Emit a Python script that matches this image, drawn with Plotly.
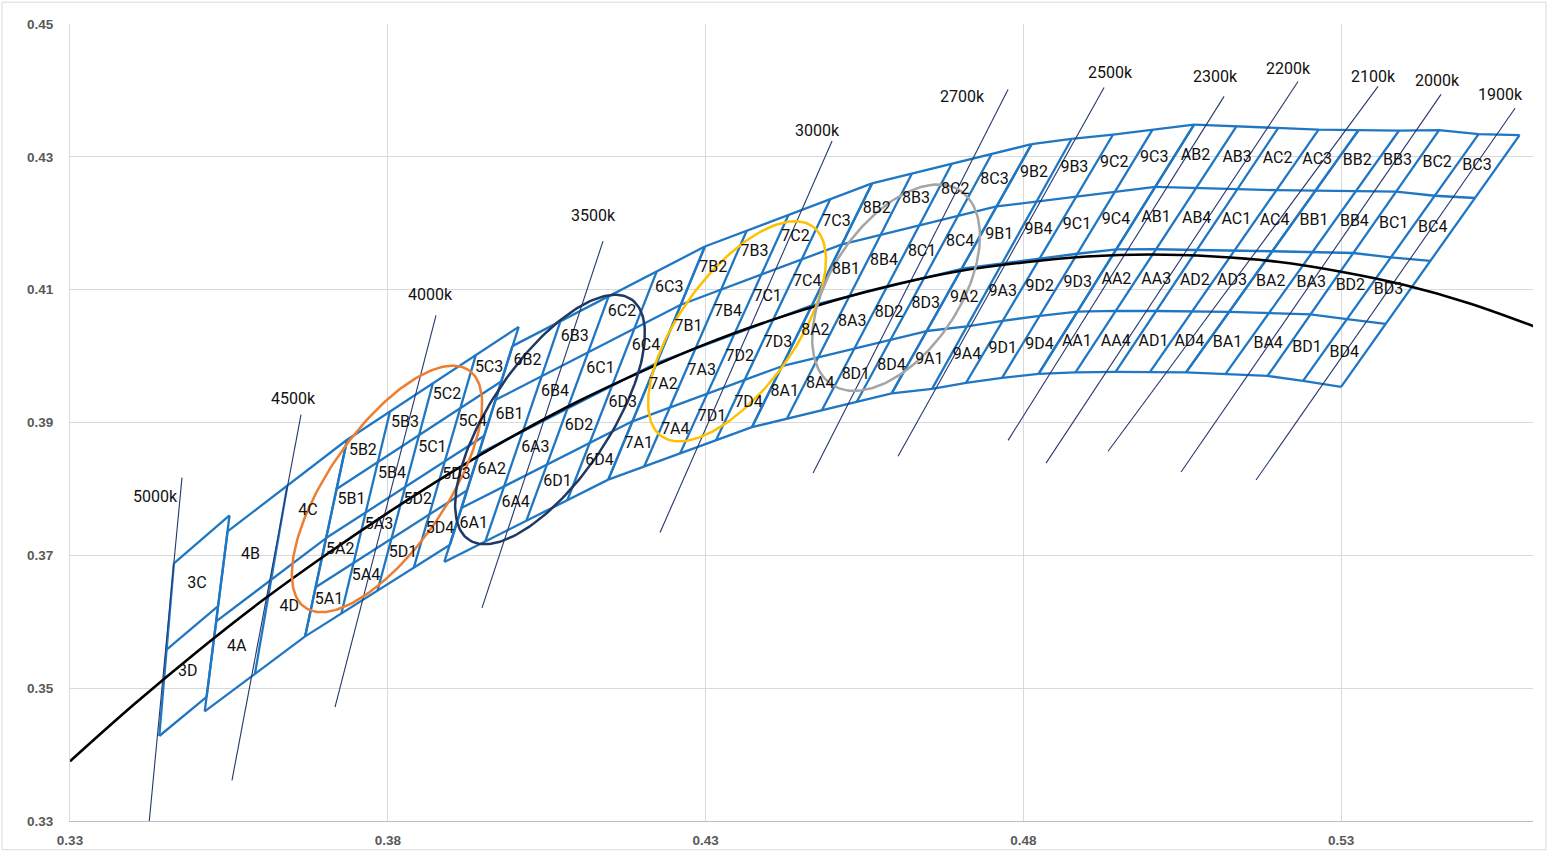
import numpy as np
import plotly.graph_objects as go

# ---------------- axes ----------------
X_RANGE = [0.33, 0.5602]
Y_RANGE = [0.33, 0.45]
X_TICKS = [0.33, 0.38, 0.43, 0.48, 0.53]
Y_TICKS = [0.33, 0.35, 0.37, 0.39, 0.41, 0.43, 0.45]

# ---------------- Planckian locus (black curve) ----------------
LOCUS_X = [0.33, 0.34, 0.35, 0.36, 0.37, 0.38, 0.39, 0.40, 0.41, 0.42, 0.43, 0.44,
           0.45, 0.46, 0.47, 0.48, 0.49, 0.50, 0.51, 0.52, 0.53, 0.54, 0.55, 0.56, 0.565]
LOCUS_Y = [0.3390, 0.3475, 0.3555, 0.3630, 0.3699, 0.3764, 0.3825, 0.3881, 0.3932, 0.3977,
           0.4018, 0.4053, 0.4083, 0.4108, 0.4128, 0.4141, 0.4150, 0.4153, 0.4150, 0.4142,
           0.4127, 0.4107, 0.4080, 0.4046, 0.4027]

# ---------------- quadrangle groups defined by 4 corners ----------------
ANSI_GROUPS = ["3", "4", "5", "6", "7", "8"]
ANSI_TL_X = [0.34635, 0.3548, 0.3736, 0.3996, 0.4299, 0.4562]
ANSI_TL_Y = [0.3688, 0.3736, 0.3874, 0.4015, 0.4165, 0.4260]
ANSI_TR_X = [0.3551, 0.3736, 0.4006, 0.4299, 0.4562, 0.4813]
ANSI_TR_Y = [0.3760, 0.3874, 0.4044, 0.4165, 0.4260, 0.4319]
ANSI_BR_X = [0.3515, 0.3670, 0.3898, 0.4147, 0.4373, 0.4593]
ANSI_BR_Y = [0.3487, 0.3578, 0.3716, 0.3814, 0.3893, 0.3944]
ANSI_BL_X = [0.34405, 0.3512, 0.3670, 0.3889, 0.4147, 0.4373]
ANSI_BL_Y = [0.3428, 0.3465, 0.3578, 0.3690, 0.3814, 0.3893]
ANSI_COLS = [1, 2, 4, 4, 4, 4]
ANSI_ROWS = [2, 2, 4, 4, 4, 4]

CODES_1x2 = [["C"], ["D"]]
CODES_2x2 = [["B", "C"], ["A", "D"]]
CODES_4x4 = [["B2", "B3", "C2", "C3"],
             ["B1", "B4", "C1", "C4"],
             ["A2", "A3", "D2", "D3"],
             ["A1", "A4", "D1", "D4"]]

# ---------------- extended groups 9, A, B (13 shared tilted lines) ----------------
EXT_GROUPS = ["9", "A", "B"]
EXT_TOP_X = [0.4813, 0.48759, 0.49412, 0.50034, 0.50687, 0.51356, 0.52009, 0.52646,
             0.53275, 0.53913, 0.54542, 0.55164, 0.55809]
EXT_TOP_Y = [0.4319, 0.43269, 0.43336, 0.43410, 0.43485, 0.43463, 0.43433, 0.43410,
             0.43403, 0.43396, 0.43403, 0.43343, 0.43328]
EXT_BOT_X = [0.4593, 0.46564, 0.47099, 0.47666, 0.48240, 0.48822, 0.49452, 0.49994,
             0.50561, 0.51183, 0.51843, 0.52402, 0.53000]
EXT_BOT_Y = [0.3944, 0.39507, 0.39597, 0.39672, 0.39731, 0.39754, 0.39761, 0.39761,
             0.39754, 0.39731, 0.39701, 0.39627, 0.39537]

# ---------------- CCT lines ----------------
ISO_LABELS = ["5000k", "4500k", "4000k", "3500k", "3000k", "2700k", "2500k",
              "2300k", "2200k", "2100k", "2000k", "1900k"]
ISO_X0 = [0.34227, 0.35549, 0.37170, 0.39483, 0.42284, 0.44692, 0.46029,
          0.47760, 0.48358, 0.49334, 0.50482, 0.51662]
ISO_Y0 = [0.32791, 0.33612, 0.34716, 0.36209, 0.37343, 0.38239, 0.38493,
          0.38731, 0.38388, 0.38567, 0.38254, 0.38134]
ISO_X1 = [0.34762, 0.36635, 0.38759, 0.41387, 0.44991, 0.47760, 0.49271,
          0.51159, 0.52323, 0.53582, 0.54573, 0.55738]
ISO_Y1 = [0.38170, 0.39119, 0.40612, 0.41731, 0.43239, 0.44015, 0.44045,
          0.43910, 0.44134, 0.44060, 0.43940, 0.43731]
ISO_LX = [0.34338, 0.36509, 0.38665, 0.41231, 0.44755, 0.47036, 0.49365,
          0.51017, 0.52166, 0.53503, 0.54510, 0.55502]
ISO_LY = [0.37866, 0.39343, 0.40910, 0.42090, 0.43373, 0.43881, 0.44254,
          0.44194, 0.44313, 0.44194, 0.44134, 0.43910]

# ---------------- ellipses ----------------
ELL_COLORS = ["#ED7D31", "#1F3864", "#FFC000", "#A5A5A5"]
ELL_CX = [0.37988, 0.40553, 0.43496, 0.45998]
ELL_CY = [0.38000, 0.39045, 0.40373, 0.41030]
ELL_A = [0.02282, 0.02297, 0.02046, 0.01841]
ELL_B = [0.00928, 0.00935, 0.00908, 0.01018]
ELL_ANG = [55.7, 56.3, 54.5, 56.8]

# ---------------- figure geometry ----------------
W, H = 1549, 860
ML, MR, MT, MB = 70, 16, 24, 32
PLOT_W = W - ML - MR
PLOT_H = H - MT - MB
KY = ((Y_RANGE[1] - Y_RANGE[0]) / PLOT_H) / ((X_RANGE[1] - X_RANGE[0]) / PLOT_W)

GRID_COLOR = "#1F77C4"

seg_x, seg_y = [], []
lab_x, lab_y, lab_t = [], [], []


def add_grid(name, top, bot, nrows, codes):
    for (tx, ty), (bx, by) in zip(top, bot):
        seg_x.extend([tx, bx, None])
        seg_y.extend([ty, by, None])
    nodes = []
    for r in range(nrows + 1):
        f = r / nrows
        nodes.append([(tx + (bx - tx) * f, ty + (by - ty) * f)
                      for (tx, ty), (bx, by) in zip(top, bot)])
    for row in nodes:
        seg_x.extend([p[0] for p in row] + [None])
        seg_y.extend([p[1] for p in row] + [None])
    ncols = len(top) - 1
    for r in range(nrows):
        for c in range(ncols):
            pts = [nodes[r][c], nodes[r][c + 1], nodes[r + 1][c], nodes[r + 1][c + 1]]
            lab_x.append(sum(p[0] for p in pts) / 4)
            lab_y.append(sum(p[1] for p in pts) / 4)
            lab_t.append(name + codes[r][c])


for i, g in enumerate(ANSI_GROUPS):
    nc, nr = ANSI_COLS[i], ANSI_ROWS[i]
    top = [(ANSI_TL_X[i] + (ANSI_TR_X[i] - ANSI_TL_X[i]) * c / nc,
            ANSI_TL_Y[i] + (ANSI_TR_Y[i] - ANSI_TL_Y[i]) * c / nc) for c in range(nc + 1)]
    bot = [(ANSI_BL_X[i] + (ANSI_BR_X[i] - ANSI_BL_X[i]) * c / nc,
            ANSI_BL_Y[i] + (ANSI_BR_Y[i] - ANSI_BL_Y[i]) * c / nc) for c in range(nc + 1)]
    codes = CODES_1x2 if nc == 1 else (CODES_2x2 if nc == 2 else CODES_4x4)
    add_grid(g, top, bot, nr, codes)

for gi, g in enumerate(EXT_GROUPS):
    idx = range(4 * gi, 4 * gi + 5)
    top = [(EXT_TOP_X[k], EXT_TOP_Y[k]) for k in idx]
    bot = [(EXT_BOT_X[k], EXT_BOT_Y[k]) for k in idx]
    add_grid(g, top, bot, 4, CODES_4x4)

fig = go.Figure()

fig.add_trace(go.Scatter(x=seg_x, y=seg_y, mode="lines",
                         line=dict(color=GRID_COLOR, width=2.3), hoverinfo="skip"))

iso_x, iso_y = [], []
for a, b, c, d in zip(ISO_X0, ISO_Y0, ISO_X1, ISO_Y1):
    iso_x.extend([a, c, None])
    iso_y.extend([b, d, None])
fig.add_trace(go.Scatter(x=iso_x, y=iso_y, mode="lines",
                         line=dict(color="#25376F", width=1.1), hoverinfo="skip"))

fig.add_trace(go.Scatter(x=LOCUS_X, y=LOCUS_Y, mode="lines",
                         line=dict(color="black", width=2.6, shape="spline"),
                         hoverinfo="skip"))

t = np.linspace(0, 2 * np.pi, 181)
for col, cx, cy, a, b, ang in zip(ELL_COLORS, ELL_CX, ELL_CY, ELL_A, ELL_B, ELL_ANG):
    th = np.radians(ang)
    ex = cx + a * np.cos(t) * np.cos(th) - b * np.sin(t) * np.sin(th)
    ey = cy + (a * np.cos(t) * np.sin(th) + b * np.sin(t) * np.cos(th)) * KY
    fig.add_trace(go.Scatter(x=ex, y=ey, mode="lines",
                             line=dict(color=col, width=2.5), hoverinfo="skip"))

fig.add_trace(go.Scatter(x=lab_x, y=lab_y, mode="text", text=lab_t,
                         textfont=dict(family="Roboto", size=16, color="#111111"),
                         hoverinfo="skip"))

fig.add_trace(go.Scatter(x=ISO_LX, y=ISO_LY, mode="text", text=ISO_LABELS,
                         textfont=dict(family="Roboto", size=16, color="#111111"),
                         hoverinfo="skip"))

tickfont = dict(family="Liberation Sans", size=13.5, color="#595959")
fig.update_layout(
    width=W, height=H, autosize=False,
    margin=dict(l=ML, r=MR, t=MT, b=MB, pad=0),
    paper_bgcolor="white", plot_bgcolor="white",
    showlegend=False, hovermode=False,
    xaxis=dict(range=X_RANGE, tickvals=X_TICKS, ticktext=["<b>%.2f</b>" % v for v in X_TICKS],
               showgrid=True, gridcolor="#D9D9D9", gridwidth=1, zeroline=False,
               showline=True, linecolor="#BFBFBF", linewidth=1,
               ticks="outside", ticklen=7, tickcolor="rgba(0,0,0,0)",
               tickfont=tickfont),
    yaxis=dict(range=Y_RANGE, tickvals=Y_TICKS, ticktext=["<b>%.2f</b>" % v for v in Y_TICKS],
               showgrid=True, gridcolor="#D9D9D9", gridwidth=1, zeroline=False,
               showline=True, linecolor="#D9D9D9", linewidth=1,
               ticks="outside", ticklen=13, tickcolor="rgba(0,0,0,0)",
               tickfont=tickfont),
    shapes=[dict(type="rect", xref="paper", yref="paper",
                 x0=(2 - ML) / PLOT_W, x1=(W - 3 - ML) / PLOT_W,
                 y0=(H - MB - (H - 3)) / PLOT_H, y1=(H - MB - 2) / PLOT_H,
                 line=dict(color="#D9D9D9", width=1), layer="below")],
)

POST = (
    "var s=document.createElement('style');"
    "s.innerHTML='html,body{margin:0;padding:0;width:1549px;height:860px;overflow:hidden;}"
    ".plotly-graph-div{display:block;}';"
    "document.head.appendChild(s);"
)
fig.write_html("out.html", config={"displayModeBar": False, "responsive": False},
               post_script=POST)
